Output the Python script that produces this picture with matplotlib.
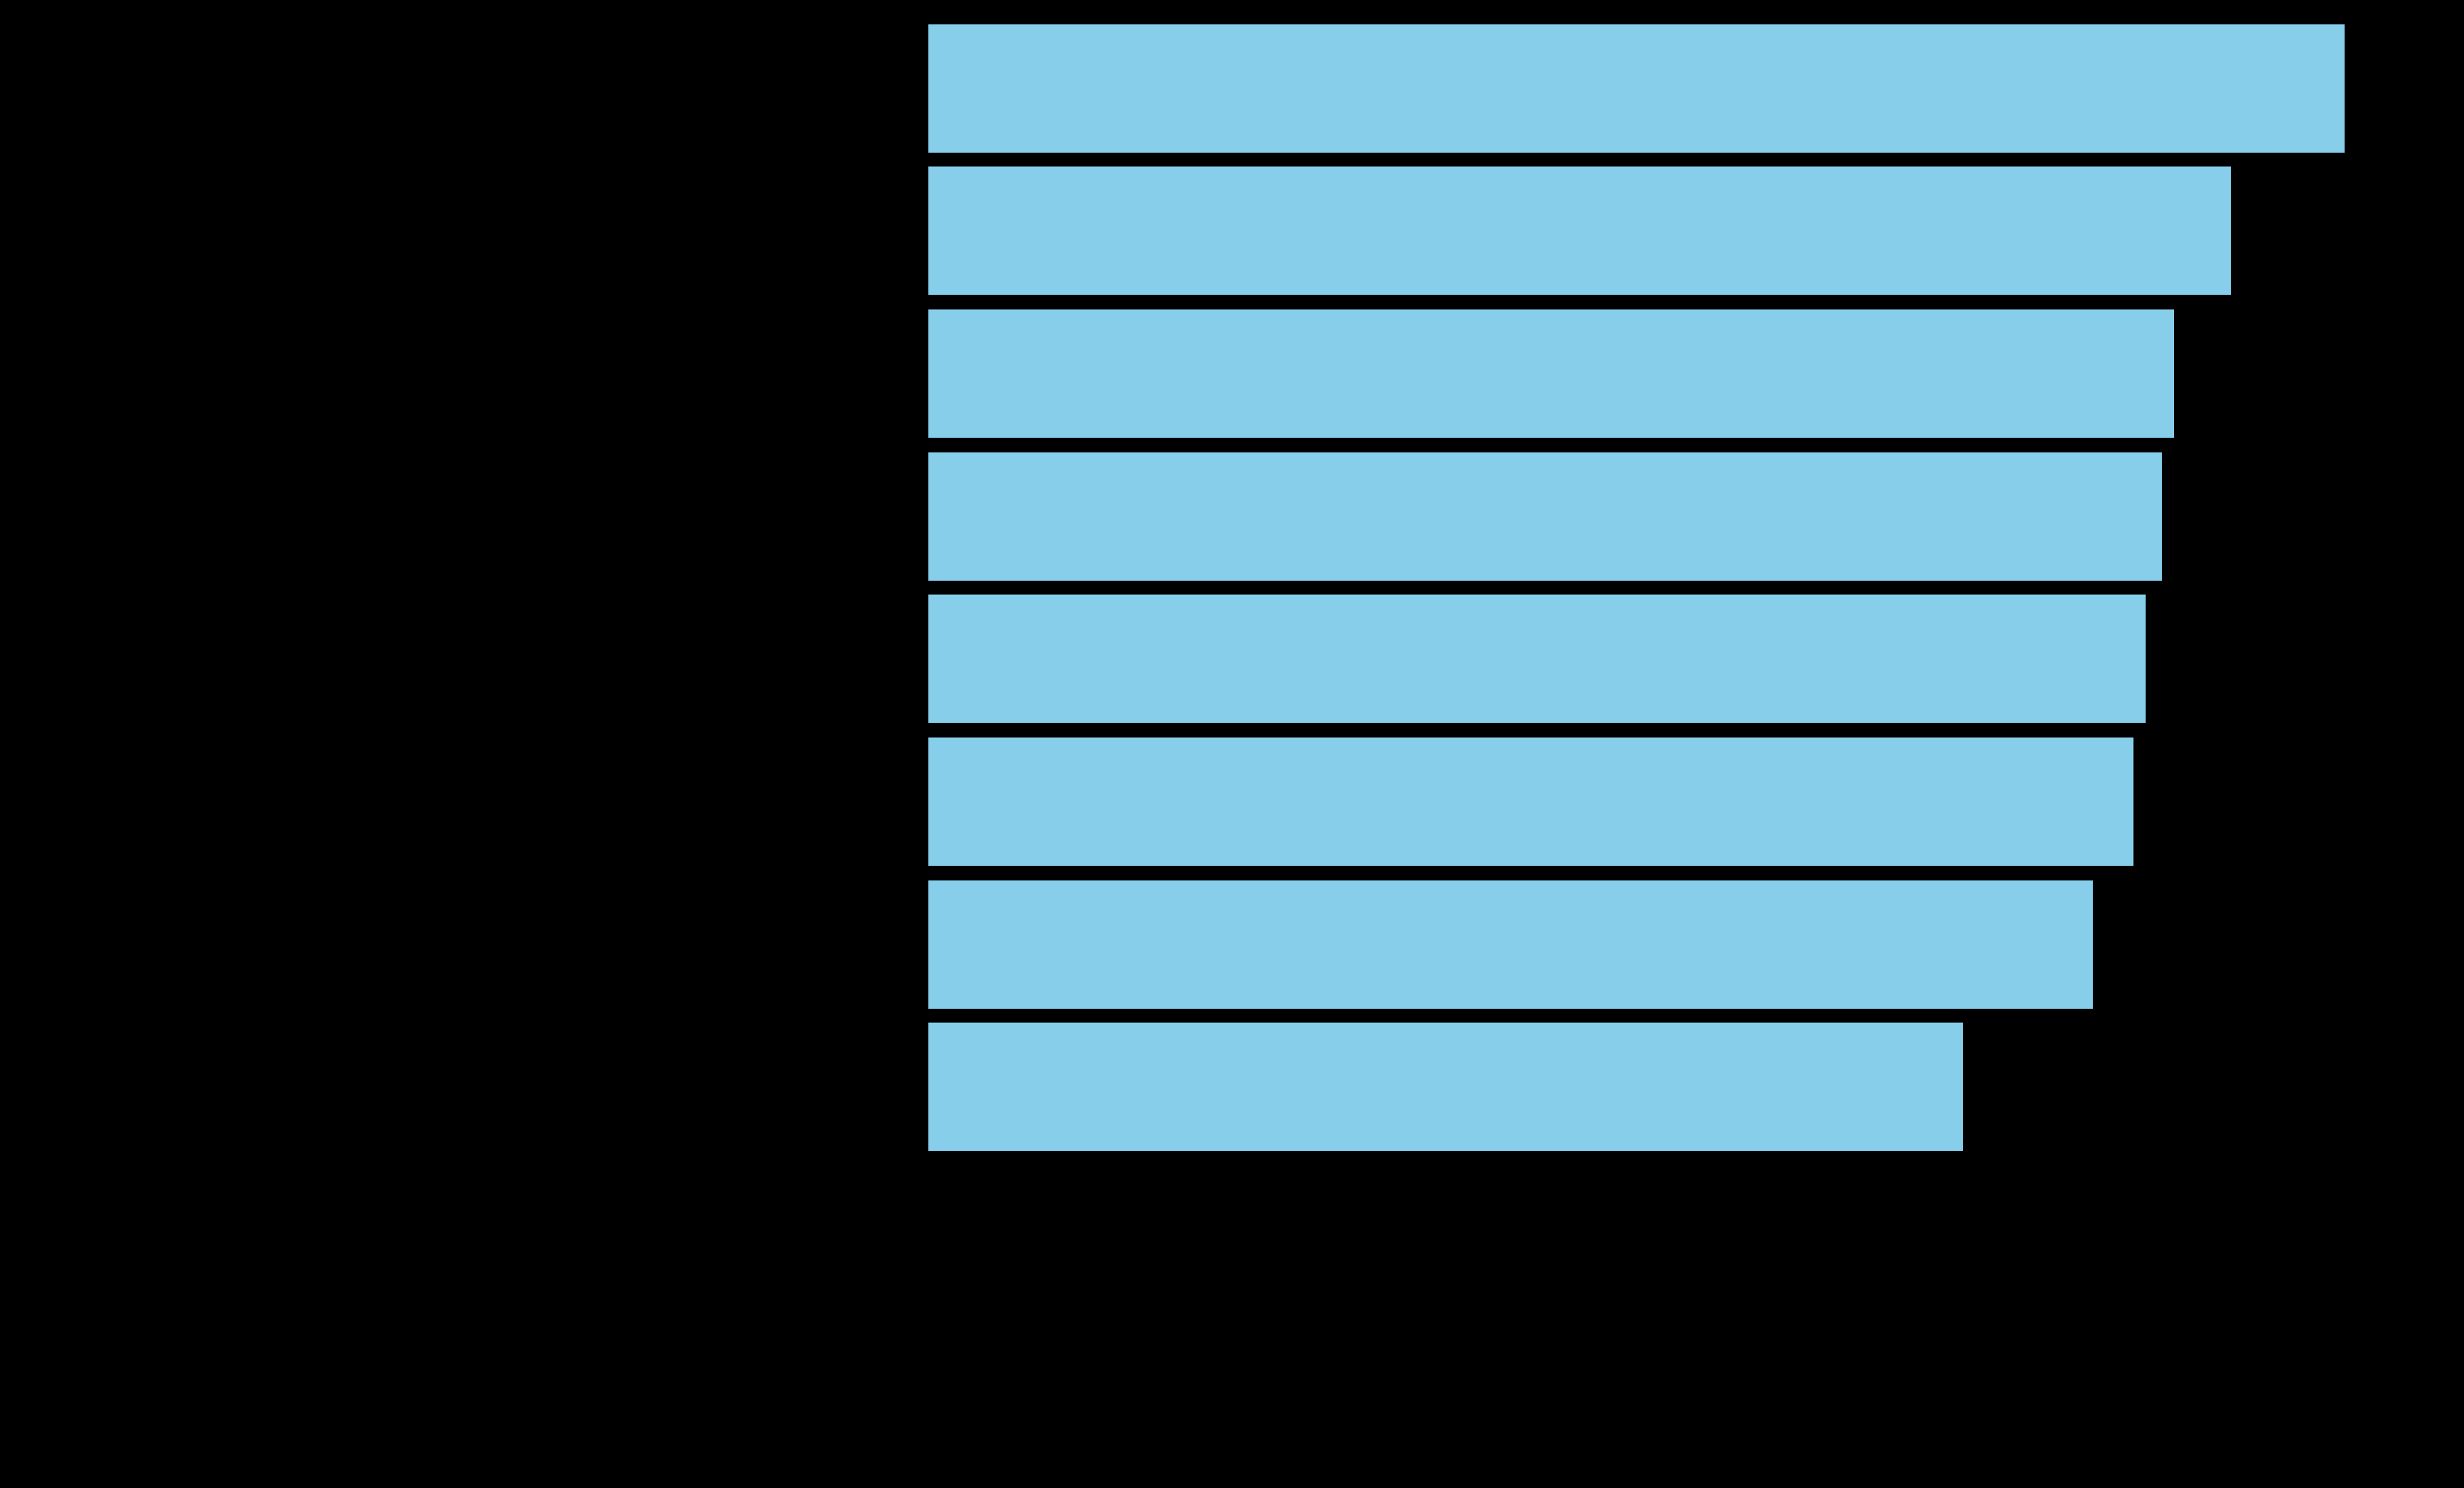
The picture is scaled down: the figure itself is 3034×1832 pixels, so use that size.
import matplotlib
matplotlib.use("Agg")
import matplotlib.pyplot as plt
import numpy as np

# Categories, top to bottom, and their values
categories = ["Item A", "Item B", "Item C", "Item D",
              "Item E", "Item F", "Item G", "Item H"]
values = [349, 321, 307, 304, 300, 297, 287, 255]

bar_color = "skyblue"

W, H, DPI = 3034, 1833, 200
fig = plt.figure(figsize=(W / DPI, H / DPI), dpi=DPI, facecolor="black")

# axes placed in pixel terms so bars land where the reference has them
left_px, right_px = 1142, 2974
top_px, bottom_px = 22, 1427
ax = fig.add_axes([left_px / W, 1 - bottom_px / H,
                   (right_px - left_px) / W, (bottom_px - top_px) / H])
ax.set_facecolor("black")

y = np.arange(len(categories))
ax.barh(y, values, height=0.9, color=bar_color)
ax.set_yticks(y)
# text and axis lines are black, so on the black ground they do not show
ax.set_yticklabels(categories, fontsize=14, color="black")
ax.set_ylim(len(categories) - 0.5, -0.5)
ax.set_xlim(0, max(values) * 1.05)
ax.set_xlabel("Value", fontsize=14, color="black")
ax.tick_params(colors="black", labelsize=12)
for s in ax.spines.values():
    s.set_color("black")

fig.savefig("out.png", dpi=DPI, facecolor="black")
